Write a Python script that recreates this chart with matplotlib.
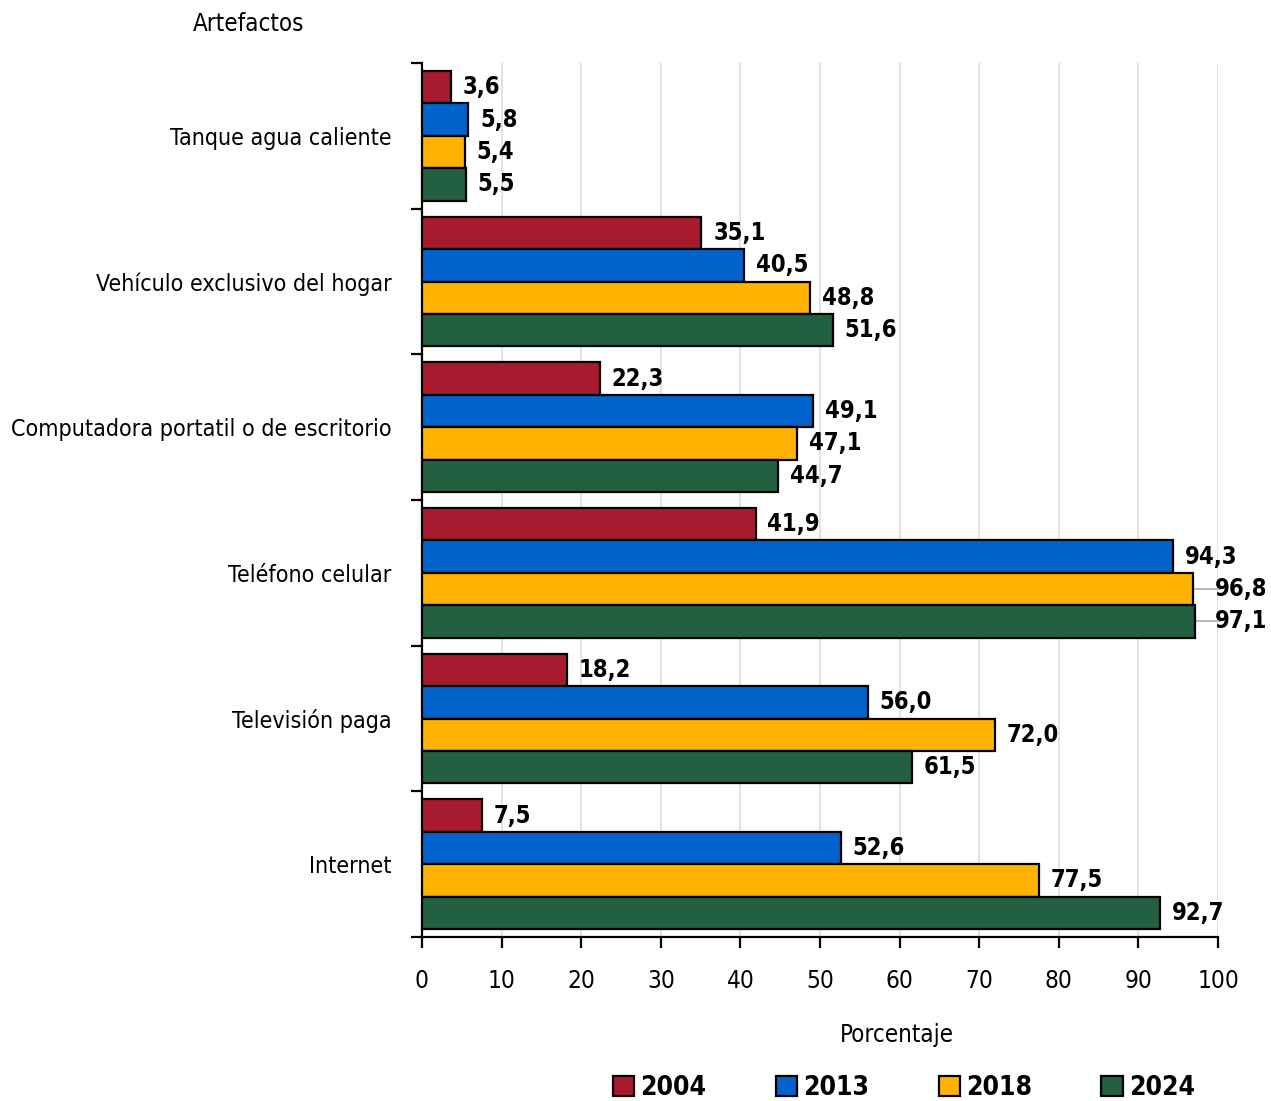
import numpy as np
import matplotlib
matplotlib.use('Agg')
import matplotlib.pyplot as plt
from matplotlib.patches import Patch

# DejaVu Sans condensed is the narrowest face available here
plt.rcParams['font.family'] = ['DejaVu Sans']
plt.rcParams['font.stretch'] = 'condensed'

categorias = ['Tanque agua caliente', 'Vehículo exclusivo del hogar',
              'Computadora portatil o de escritorio', 'Teléfono celular',
              'Televisión paga', 'Internet']
anios = ['2004', '2013', '2018', '2024']
v2004 = [3.6, 35.1, 22.3, 41.9, 18.2, 7.5]
v2013 = [5.8, 40.5, 49.1, 94.3, 56.0, 52.6]
v2018 = [5.4, 48.8, 47.1, 96.8, 72.0, 77.5]
v2024 = [5.5, 51.6, 44.7, 97.1, 61.5, 92.7]
series = [v2004, v2013, v2018, v2024]
colores = ['#A81B2E', '#0063CC', '#FFB300', '#22603F']

fig = plt.figure(figsize=(12.71, 11.01), dpi=100)
ax = fig.add_axes([422/1271, 1-937/1101, (1218-422)/1271, (937-63)/1101])

y = np.arange(len(categorias))
h = 0.89 / 4
for i, (vals, col) in enumerate(zip(series, colores)):
    pos = y - 0.445 + h * (i + 0.5)
    ax.barh(pos, vals, height=h, color=col, edgecolor='black', linewidth=1.6, zorder=3)
    for p, v in zip(pos, vals):
        txt = f"{v:.1f}".replace('.', ',')
        if v > 95:
            # labels pushed past the axis end, with a grey leader line
            ax.plot([v, 100.2], [p, p], color='#aaaaaa', lw=1.2, zorder=2, clip_on=False)
            ax.text(106.2, p, txt, va='center', ha='right', fontsize=17, fontweight='bold', zorder=4)
        else:
            ax.annotate(txt, (v, p), xytext=(8.5, 0), textcoords='offset points',
                        va='center', ha='left', fontsize=17, fontweight='bold', zorder=4)

ax.set_xlim(0, 100)
ax.set_ylim(5.5, -0.5)
ax.set_xticks(np.arange(0, 101, 10))
ax.set_yticks(y)
ax.set_yticklabels(categorias, fontsize=16.7)
ax.set_yticks(np.arange(-0.5, 6, 1), minor=True)
ax.tick_params(axis='y', which='major', length=0, pad=22)
ax.tick_params(axis='y', which='minor', length=8, width=1.6, direction='out')
ax.tick_params(axis='x', length=8, width=1.6, direction='out', labelsize=17.5, pad=15)
ax.grid(axis='x', color='#dddddd', lw=1.2, zorder=0)
for s in ['top', 'right']:
    ax.spines[s].set_visible(False)
for s in ['left', 'bottom']:
    ax.spines[s].set_linewidth(1.6)

fig.text(193/1271, 1-24/1101, 'Artefactos', fontsize=17.3, va='center', ha='left')
fig.text(897/1271, 1-1035/1101, 'Porcentaje', fontsize=17.3, va='center', ha='center')

handles = [Patch(facecolor=c, edgecolor='black', linewidth=1.6) for c in colores]
leg = fig.legend(handles, anios, loc='center', bbox_to_anchor=(904/1271, 1-1088/1101),
                 ncol=4, frameon=False, handlelength=0.8, handleheight=0.8,
                 handletextpad=0.25, columnspacing=2.62,
                 prop={'family': 'DejaVu Sans', 'size': 19, 'weight': 'bold', 'stretch': 'condensed'})

plt.savefig('out.png', dpi=100)
